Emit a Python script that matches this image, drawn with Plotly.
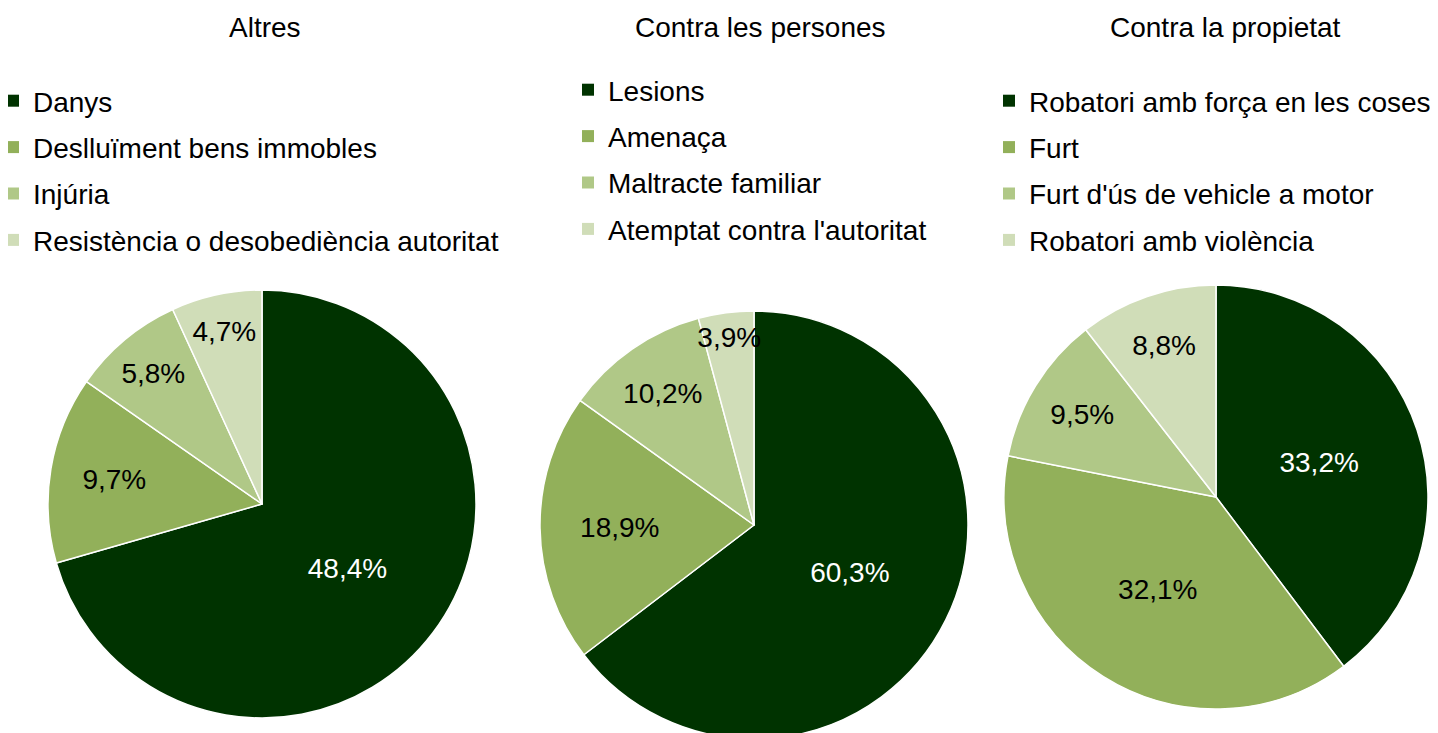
import plotly.graph_objects as go

# ── Data (percent of total, as printed on the slices) ─────────
titles = ["Altres", "Contra les persones", "Contra la propietat"]

altres_labels = ["Danys", "Deslluïment bens immobles", "Injúria",
                 "Resistència o desobediència autoritat"]
altres_values = [48.4, 9.7, 5.8, 4.7]

persones_labels = ["Lesions", "Amenaça", "Maltracte familiar",
                   "Atemptat contra l'autoritat"]
persones_values = [60.3, 18.9, 10.2, 3.9]

propietat_labels = ["Robatori amb força en les coses", "Furt",
                    "Furt d'ús de vehicle a motor", "Robatori amb violència"]
propietat_values = [33.2, 32.1, 9.5, 8.8]

colors = ["#003300", "#92B05A", "#B0C887", "#D0DDB8"]
text_colors = ["white", "black", "black", "black"]

W, H = 1438, 733
OFF = 8  # page body margin in the screenshot


def px_x(v):
    return (v - OFF) / W


def px_y(v):
    return 1 - (v - OFF) / H


# pie boxes in screen pixels: (left, right, top, bottom)
pie_boxes = [(48, 476, 290, 718), (540, 968, 311, 739), (1004, 1428, 285, 709)]
title_x = [265, 760, 1225]
# legend box top-left in screen pixels
legend_pos = [(-7, 76), (568, 65), (989, 76)]

groups = [
    (altres_labels, altres_values),
    (persones_labels, persones_values),
    (propietat_labels, propietat_values),
]

fig = go.Figure()

for i, (labels, values) in enumerate(groups):
    l, r, t, b = pie_boxes[i]
    fig.add_trace(go.Pie(
        labels=labels,
        values=values,
        text=[f"{v:.1f}%".replace(".", ",") for v in values],
        textinfo="text",
        textposition="inside",
        insidetextorientation="horizontal",
        textfont=dict(size=28, color=text_colors),
        marker=dict(colors=colors, line=dict(color="white", width=1.5)),
        sort=False,
        direction="clockwise",
        rotation=0,
        domain=dict(x=[px_x(l), px_x(r)], y=[px_y(b), px_y(t)]),
        showlegend=False,
        hovertemplate="%{label}: %{text}<extra></extra>",
    ))

    legend_name = "legend" if i == 0 else f"legend{i + 1}"
    # legend entries (square markers), one group each so the gap applies
    for lab, col in zip(labels, colors):
        fig.add_trace(go.Scatter(
            x=[None], y=[None], mode="markers",
            marker=dict(symbol="square", size=12, color=col),
            name=lab, legend=legend_name, legendgroup=f"{i}-{lab}",
            hoverinfo="skip",
        ))

    fig.add_annotation(
        text=titles[i], x=px_x(title_x[i]), y=px_y(28),
        xref="paper", yref="paper", xanchor="center", yanchor="middle",
        showarrow=False, font=dict(size=28, color="black"),
    )

legend_style = dict(
    font=dict(size=28, color="black"),
    bgcolor="rgba(0,0,0,0)",
    tracegroupgap=7,
    xanchor="left", yanchor="top",
    itemclick=False, itemdoubleclick=False,
)
layout_legends = {}
for i, (lx, ly) in enumerate(legend_pos):
    key = "legend" if i == 0 else f"legend{i + 1}"
    layout_legends[key] = dict(legend_style, x=px_x(lx), y=px_y(ly))

fig.update_layout(
    width=W, height=H,
    margin=dict(l=0, r=0, t=0, b=0, autoexpand=False),
    paper_bgcolor="white",
    plot_bgcolor="white",
    font=dict(family="Liberation Sans, Arial, sans-serif", color="black"),
    uniformtext=dict(minsize=28, mode="show"),
    xaxis=dict(visible=False),
    yaxis=dict(visible=False),
    **layout_legends,
)

fig.write_html("out.html")
